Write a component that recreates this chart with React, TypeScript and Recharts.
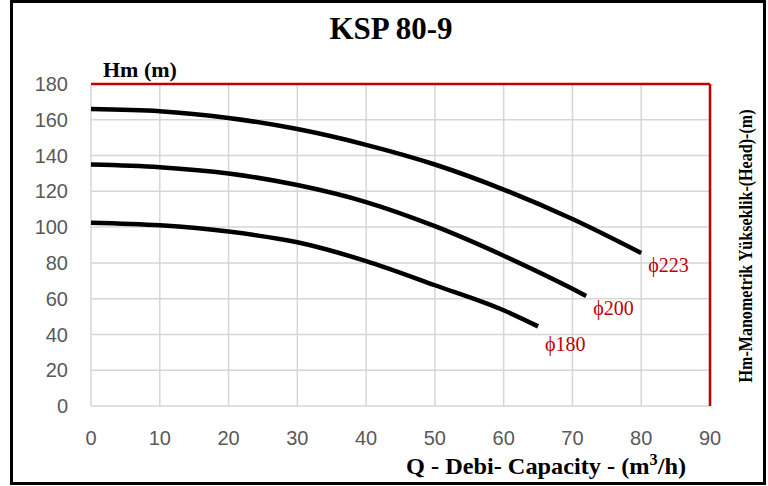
import React from "react";
import { LineChart, Line, XAxis, YAxis, CartesianGrid, ReferenceLine } from "recharts";

const xTicks = [0, 10, 20, 30, 40, 50, 60, 70, 80, 90];
const yTicks = [0, 20, 40, 60, 80, 100, 120, 140, 160, 180];

const curve223 = [
  { q: 0, h: 166 },
  { q: 10, h: 164.8 },
  { q: 20, h: 161 },
  { q: 30, h: 154.8 },
  { q: 40, h: 146 },
  { q: 50, h: 135 },
  { q: 60, h: 121 },
  { q: 70, h: 104.5 },
  { q: 80, h: 85.5 },
];

const curve200 = [
  { q: 0, h: 135 },
  { q: 10, h: 133.5 },
  { q: 20, h: 130 },
  { q: 30, h: 123.5 },
  { q: 40, h: 114 },
  { q: 50, h: 100.5 },
  { q: 60, h: 84 },
  { q: 70, h: 65.5 },
  { q: 72, h: 61.5 },
];

const curve180 = [
  { q: 0, h: 102.5 },
  { q: 10, h: 101 },
  { q: 20, h: 97.5 },
  { q: 30, h: 91.5 },
  { q: 40, h: 81 },
  { q: 50, h: 67.5 },
  { q: 60, h: 53.5 },
  { q: 65, h: 44.5 },
];

const series = [
  { name: "\u03D5223", data: curve223, dy: 19 },
  { name: "\u03D5200", data: curve200, dy: 19 },
  { name: "\u03D5180", data: curve180, dy: 25 },
];

const RED = "#c00000";
const serif = "'Liberation Serif', 'Times New Roman', serif";
const tickStyle = { fill: "#595959", fontSize: 20, fontFamily: "'Liberation Sans', Arial, sans-serif" };

function endLabel(name: string, last: number, dy: number) {
  return (props: any) => {
    if (props.index !== last) return null;
    return (
      <text x={props.x + 7} y={props.y + dy} fill={RED} fontSize={20} fontFamily={serif}>
        {name}
      </text>
    );
  };
}

export default function App() {
  return (
    <div style={{ position: "absolute", left: 0, top: 0, width: 768, height: 486, background: "#fff" }}>
      <LineChart width={768} height={486} margin={{ top: 84, right: 58, bottom: 50, left: 20 }}>
        <CartesianGrid stroke="#d6d6d6" strokeWidth={1.5} horizontalValues={yTicks} verticalValues={xTicks} />
        <XAxis
          type="number"
          dataKey="q"
          domain={[0, 90]}
          ticks={xTicks}
          axisLine={false}
          tickLine={false}
          tickMargin={19}
          height={30}
          tick={tickStyle}
          allowDuplicatedCategory={false}
        />
        <YAxis
          type="number"
          domain={[0, 180]}
          ticks={yTicks}
          axisLine={false}
          tickLine={false}
          tickMargin={17}
          width={71}
          tick={tickStyle}
        />
        <ReferenceLine y={180} stroke={RED} strokeWidth={2.5} />
        <ReferenceLine x={90} stroke={RED} strokeWidth={2.5} />
        {series.map((s) => (
          <Line
            key={s.name}
            data={s.data}
            dataKey="h"
            type="monotone"
            stroke="#000"
            strokeWidth={4.5}
            dot={false}
            isAnimationActive={false}
            label={endLabel(s.name, s.data.length - 1, s.dy)}
          />
        ))}
      </LineChart>
      <svg width={768} height={486} style={{ position: "absolute", left: 0, top: 0, pointerEvents: "none" }}>
        <rect x={11.5} y={1.5} width={753} height={482} fill="none" stroke="#000" strokeWidth={3} />
        <text x={391} y={39} textAnchor="middle" fontFamily={serif} fontWeight="bold" fontSize={31} fill="#000">
          KSP 80-9
        </text>
        <text x={103} y={77} fontFamily={serif} fontWeight="bold" fontSize={22} fill="#000">
          Hm (m)
        </text>
        <text
          x={406}
          y={474}
          textLength={280}
          lengthAdjust="spacingAndGlyphs"
          fontFamily={serif}
          fontWeight="bold"
          fontSize={24}
          fill="#000"
        >
          Q - Debi- Capacity - (m<tspan dy={-9} fontSize={16}>3</tspan><tspan dy={9}>/h)</tspan>
        </text>
        <text
          x={0}
          y={0}
          transform="translate(752,246) rotate(-90)"
          textAnchor="middle"
          textLength={273}
          lengthAdjust="spacingAndGlyphs"
          fontFamily={serif}
          fontWeight="bold"
          fontSize={18}
          fill="#000"
        >
          Hm-Manometrik Yükseklik-(Head)-(m)
        </text>
      </svg>
    </div>
  );
}
